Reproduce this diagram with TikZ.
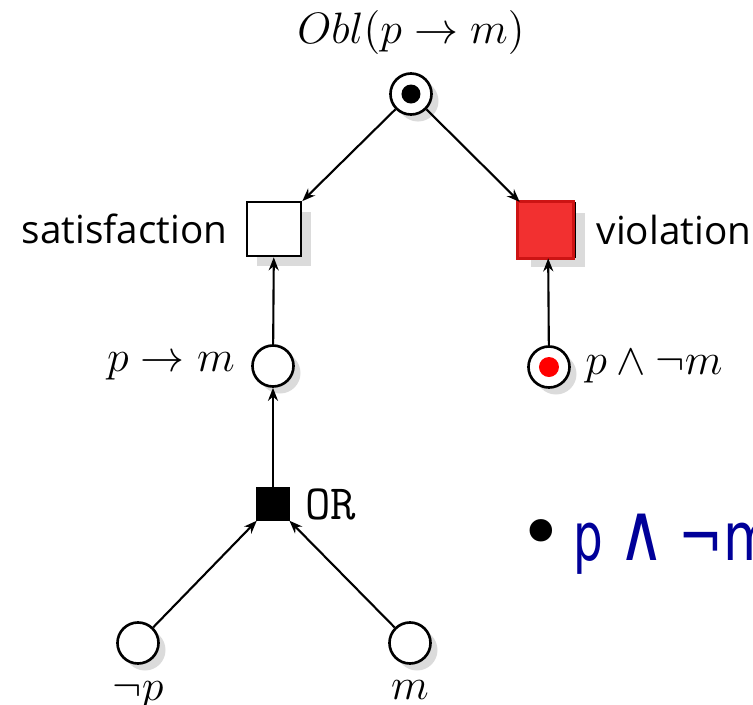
\RequirePackage{fix-cm}
\documentclass[tikz,border=0pt]{standalone}
\usepackage{fontspec}
\setmainfont{Open Sans}
\newfontfamily\slidefont{DejaVu Sans}
\usetikzlibrary{arrows.meta,shadows}
\definecolor{vred}{RGB}{242,48,48}
\definecolor{vredline}{RGB}{205,20,20}
\definecolor{slideblue}{RGB}{0,0,153}

\begin{document}
\begin{tikzpicture}[x=0.01cm,y=-0.01cm,
        every node/.style={font=\fontsize{12.5}{15}\selectfont},
        word/.style={font=\fontsize{11}{13}\selectfont},
        slide/.style={font=\slidefont\fontsize{19}{22}\selectfont,inner sep=0pt},
        place/.style={circle,draw,line width=0.75pt,fill=white,minimum size=0.41cm,inner sep=0pt,
            drop shadow={shadow xshift=0.07cm,shadow yshift=-0.07cm,opacity=1,fill=black!14}},
        outcome/.style={rectangle,draw,line width=0.75pt,fill=white,minimum size=0.54cm,inner sep=0pt,
            drop shadow={shadow xshift=0.1cm,shadow yshift=-0.1cm,opacity=1,fill=black!14}},
        gate/.style={rectangle,draw,fill=black,minimum size=0.32cm,inner sep=0pt},
        arc/.style={-{Stealth[length=0.13cm,width=0.1cm]},line width=0.6pt}]
        \useasboundingbox (0,0) rectangle (753,705);
        % places and transitions
        \path (411,94) node [place,label={[label distance=0.05cm]above:$Obl(p\rightarrow m)$}] (obl) {};
        \path (274,229) node [outcome,label={[word,label distance=0.06cm]left:satisfaction}] (sat) {};
        \path (548,230) node [outcome,fill=vred,label={[word,label distance=0.08cm]right:violation}] (viol) {};
        \path (273,366) node [place,label={[label distance=0.04cm]left:$p\rightarrow m$}] (imp) {};
        \path (549,367) node [place,label={[label distance=0.02cm]right:$p\wedge\neg m$}] (conj) {};
        \path (273,504) node [gate,label={[label distance=0.03cm,font=\fontsize{14}{16}\selectfont]right:\texttt{OR}}] (or) {};
        \path (138,643) node [place,label={[label distance=0.04cm]below:$\neg p$}] (notp) {};
        \path (410,643) node [place,label={[label distance=0.03cm]below:$m$}] (m) {};
        % red overlay on the violation box, tokens
        \filldraw [vred,draw=vredline,line width=0.75pt] ([xshift=-0.02cm]viol.north west) rectangle ([xshift=-0.03cm]viol.south east);
        \fill (obl) circle (9.5);
        \fill [red] (conj) circle (10);
        % arcs
        \draw [arc] (obl) -- (sat);
        \draw [arc] (obl) -- (viol);
        \draw [arc] (imp) -- (sat);
        \draw [arc] (conj) -- (viol);
        \draw [arc] (or) -- (imp);
        \draw [arc] (notp) -- (or);
        \draw [arc] (m) -- (or);
        % slide text
        \path (541,559) node [slide,anchor=base,font=\slidefont\fontsize{22}{24}\selectfont] (bullet) {•};
        \path (573,560) node [slide,anchor=base west,text=slideblue] (formula)
            {\scalebox{0.7}[1]{p}\hspace{0.15cm}\scalebox{0.95}[1.2]{∧}\hspace{0.14cm}\scalebox{0.8}[1]{¬m}};
\end{tikzpicture}
\end{document}
